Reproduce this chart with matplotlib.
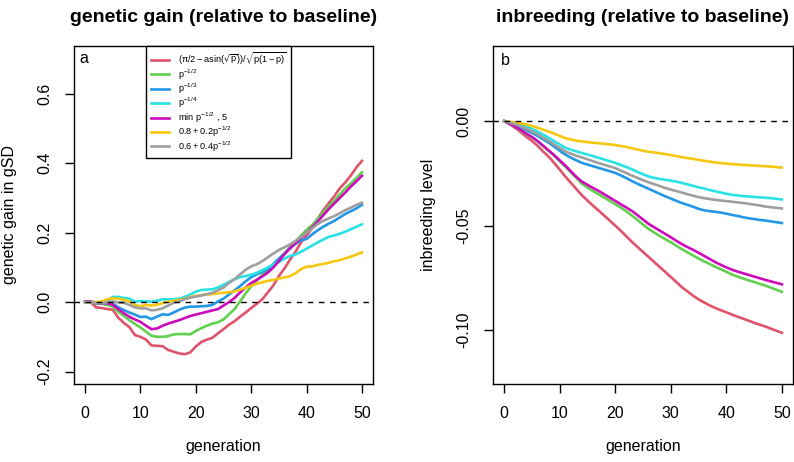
#!/usr/bin/env python3
"""
Genetic gain and inbreeding relative to baseline, two panels.
"""
import matplotlib
matplotlib.use("Agg")
import matplotlib.pyplot as plt

plt.rcParams["font.family"] = ["Liberation Sans", "DejaVu Sans"]
plt.rcParams["mathtext.default"] = "regular"
plt.rcParams["axes.unicode_minus"] = False

generation = list(range(51))

labels = [
    r"$(\pi/2 - asin(\sqrt{p}))/\sqrt{p(1-p)}$",
    r"$p^{-1/2}$",
    r"$p^{-1/3}$",
    r"$p^{-1/4}$",
    r"$min\ p^{-1/2}$ , 5",
    r"$0.8 + 0.2p^{-1/2}$",
    r"$0.6 + 0.4p^{-1/2}$",
]
colors = ["#DF536B", "#61D04F", "#2297E6", "#28E2E5", "#CD0BBC", "#F5C710", "#9E9E9E"]

# panel a: genetic gain in gSD
gain_red = [0.0, 0.0, -0.015, -0.017, -0.020, -0.022, -0.045, -0.060, -0.072, -0.095,
            -0.100, -0.108, -0.125, -0.126, -0.127, -0.138, -0.143, -0.148, -0.150, -0.145,
            -0.128, -0.115, -0.108, -0.103, -0.090, -0.078, -0.065, -0.055, -0.042, -0.030,
            -0.017, -0.005, 0.008, 0.028, 0.048, 0.075, 0.097, 0.122, 0.145, 0.172,
            0.192, 0.213, 0.240, 0.264, 0.285, 0.305, 0.328, 0.345, 0.365, 0.388, 0.407]
gain_green = [0.0, 0.0, -0.005, -0.005, -0.008, -0.013, -0.028, -0.040, -0.052, -0.063,
              -0.073, -0.085, -0.097, -0.100, -0.100, -0.098, -0.093, -0.092, -0.092, -0.093,
              -0.083, -0.075, -0.068, -0.062, -0.058, -0.050, -0.035, -0.020, 0.002, 0.025,
              0.045, 0.062, 0.078, 0.092, 0.108, 0.122, 0.140, 0.158, 0.175, 0.192,
              0.208, 0.222, 0.240, 0.258, 0.276, 0.292, 0.310, 0.328, 0.342, 0.358, 0.374]
gain_blue = [0.0, 0.0, -0.003, -0.003, -0.003, -0.004, -0.015, -0.023, -0.030, -0.036,
             -0.043, -0.042, -0.049, -0.042, -0.035, -0.037, -0.030, -0.022, -0.016, -0.013,
             -0.013, -0.012, -0.011, -0.008, 0.002, 0.010, 0.022, 0.034, 0.046, 0.060,
             0.072, 0.080, 0.087, 0.095, 0.110, 0.125, 0.140, 0.155, 0.168, 0.178,
             0.182, 0.195, 0.207, 0.217, 0.226, 0.234, 0.244, 0.254, 0.262, 0.270, 0.280]
gain_cyan = [0.0, 0.0, 0.0, 0.0, 0.004, 0.015, 0.015, 0.012, 0.010, 0.001,
             0.003, 0.002, 0.001, 0.004, 0.008, 0.008, 0.008, 0.010, 0.015, 0.022,
             0.030, 0.035, 0.036, 0.037, 0.042, 0.050, 0.058, 0.066, 0.072, 0.075,
             0.079, 0.084, 0.092, 0.100, 0.108, 0.116, 0.125, 0.133, 0.137, 0.145,
             0.154, 0.163, 0.172, 0.180, 0.188, 0.192, 0.197, 0.203, 0.210, 0.217, 0.224]
gain_magenta = [0.002, 0.002, -0.003, -0.003, -0.003, -0.008, -0.020, -0.032, -0.042, -0.050,
                -0.057, -0.068, -0.078, -0.076, -0.068, -0.062, -0.057, -0.052, -0.046, -0.040,
                -0.036, -0.032, -0.028, -0.024, -0.020, -0.010, 0.000, 0.012, 0.028, 0.042,
                0.055, 0.064, 0.074, 0.085, 0.100, 0.118, 0.138, 0.155, 0.170, 0.186,
                0.200, 0.215, 0.232, 0.250, 0.268, 0.284, 0.300, 0.316, 0.333, 0.348, 0.364]
gain_yellow = [0.0, 0.0, 0.0, 0.002, 0.008, 0.011, 0.010, 0.007, 0.002, -0.008,
               -0.012, -0.008, -0.010, -0.008, -0.003, 0.001, 0.004, 0.006, 0.010, 0.015,
               0.018, 0.020, 0.022, 0.023, 0.025, 0.027, 0.028, 0.031, 0.036, 0.041,
               0.047, 0.053, 0.057, 0.061, 0.064, 0.068, 0.071, 0.075, 0.083, 0.095,
               0.102, 0.103, 0.107, 0.110, 0.113, 0.118, 0.121, 0.126, 0.131, 0.137, 0.143]
gain_gray = [0.0, 0.0, -0.003, -0.003, 0.000, 0.002, -0.001, -0.002, -0.008, -0.015,
             -0.018, -0.018, -0.024, -0.022, -0.018, -0.010, -0.002, 0.002, 0.009, 0.013,
             0.016, 0.019, 0.023, 0.027, 0.034, 0.042, 0.055, 0.066, 0.080, 0.093,
             0.103, 0.109, 0.118, 0.129, 0.140, 0.150, 0.158, 0.166, 0.176, 0.188,
             0.200, 0.212, 0.225, 0.234, 0.241, 0.248, 0.256, 0.265, 0.272, 0.280, 0.286]

# panel b: inbreeding level
inb_red = [0.0, -0.0015, -0.0033, -0.0053, -0.0075, -0.0095, -0.0118, -0.0145, -0.0170, -0.0200,
           -0.0232, -0.0265, -0.0295, -0.0325, -0.0355, -0.0380, -0.0405, -0.0428, -0.0452, -0.0476,
           -0.0500, -0.0525, -0.0551, -0.0578, -0.0602, -0.0626, -0.0650, -0.0674, -0.0698, -0.0722,
           -0.0746, -0.0770, -0.0795, -0.0815, -0.0835, -0.0853, -0.0868, -0.0882, -0.0894, -0.0905,
           -0.0915, -0.0926, -0.0936, -0.0945, -0.0955, -0.0965, -0.0974, -0.0983, -0.0993, -0.1003, -0.1013]
inb_green = [0.0, -0.0012, -0.0028, -0.0045, -0.0062, -0.0078, -0.0097, -0.0120, -0.0142, -0.0165,
             -0.0192, -0.0218, -0.0245, -0.0272, -0.0300, -0.0318, -0.0335, -0.0350, -0.0366, -0.0382,
             -0.0398, -0.0414, -0.0432, -0.0452, -0.0473, -0.0495, -0.0516, -0.0533, -0.0550, -0.0565,
             -0.0580, -0.0597, -0.0613, -0.0628, -0.0643, -0.0658, -0.0671, -0.0684, -0.0697, -0.0709,
             -0.0721, -0.0734, -0.0744, -0.0753, -0.0762, -0.0770, -0.0779, -0.0787, -0.0797, -0.0807, -0.0817]
inb_blue = [0.0, -0.0009, -0.0020, -0.0031, -0.0044, -0.0056, -0.0071, -0.0087, -0.0103, -0.0122,
            -0.0142, -0.0160, -0.0175, -0.0188, -0.0200, -0.0208, -0.0216, -0.0224, -0.0232, -0.0240,
            -0.0248, -0.0260, -0.0273, -0.0287, -0.0300, -0.0312, -0.0324, -0.0336, -0.0348, -0.0360,
            -0.0371, -0.0382, -0.0392, -0.0401, -0.0410, -0.0420, -0.0427, -0.0431, -0.0434, -0.0438,
            -0.0443, -0.0449, -0.0454, -0.0460, -0.0465, -0.0469, -0.0473, -0.0476, -0.0480, -0.0484, -0.0488]
inb_cyan = [0.0, -0.0005, -0.0010, -0.0016, -0.0026, -0.0037, -0.0050, -0.0065, -0.0080, -0.0096,
            -0.0112, -0.0128, -0.0137, -0.0145, -0.0153, -0.0160, -0.0168, -0.0176, -0.0184, -0.0192,
            -0.0200, -0.0210, -0.0220, -0.0231, -0.0243, -0.0255, -0.0265, -0.0272, -0.0277, -0.0281,
            -0.0285, -0.0290, -0.0296, -0.0303, -0.0310, -0.0317, -0.0323, -0.0330, -0.0336, -0.0342,
            -0.0348, -0.0353, -0.0356, -0.0359, -0.0361, -0.0363, -0.0365, -0.0367, -0.0369, -0.0372, -0.0375]
inb_magenta = [0.0, -0.0012, -0.0027, -0.0043, -0.0060, -0.0076, -0.0095, -0.0117, -0.0140, -0.0163,
               -0.0188, -0.0212, -0.0240, -0.0267, -0.0290, -0.0305, -0.0320, -0.0334, -0.0350, -0.0366,
               -0.0382, -0.0398, -0.0414, -0.0430, -0.0450, -0.0471, -0.0492, -0.0508, -0.0524, -0.0540,
               -0.0556, -0.0573, -0.0589, -0.0603, -0.0616, -0.0630, -0.0645, -0.0660, -0.0675, -0.0688,
               -0.0700, -0.0711, -0.0720, -0.0728, -0.0736, -0.0744, -0.0752, -0.0760, -0.0767, -0.0774, -0.0781]
inb_yellow = [0.0, -0.0003, -0.0007, -0.0011, -0.0016, -0.0023, -0.0032, -0.0041, -0.0050, -0.0060,
              -0.0071, -0.0081, -0.0088, -0.0094, -0.0098, -0.0101, -0.0104, -0.0106, -0.0109, -0.0112,
              -0.0115, -0.0119, -0.0124, -0.0130, -0.0136, -0.0142, -0.0147, -0.0150, -0.0154, -0.0158,
              -0.0163, -0.0168, -0.0173, -0.0177, -0.0181, -0.0186, -0.0190, -0.0194, -0.0198, -0.0201,
              -0.0204, -0.0206, -0.0208, -0.0210, -0.0211, -0.0213, -0.0215, -0.0216, -0.0218, -0.0220, -0.0223]
inb_gray = [0.0, -0.0007, -0.0016, -0.0025, -0.0037, -0.0049, -0.0063, -0.0079, -0.0095, -0.0112,
            -0.0129, -0.0145, -0.0156, -0.0166, -0.0174, -0.0183, -0.0192, -0.0201, -0.0209, -0.0217,
            -0.0225, -0.0237, -0.0249, -0.0261, -0.0272, -0.0283, -0.0293, -0.0302, -0.0311, -0.0320,
            -0.0328, -0.0335, -0.0342, -0.0350, -0.0357, -0.0364, -0.0369, -0.0373, -0.0377, -0.0380,
            -0.0383, -0.0386, -0.0389, -0.0392, -0.0396, -0.0400, -0.0404, -0.0409, -0.0412, -0.0415, -0.0418]

gain = [gain_red, gain_green, gain_blue, gain_cyan, gain_magenta, gain_yellow, gain_gray]
inbreeding = [inb_red, inb_green, inb_blue, inb_cyan, inb_magenta, inb_yellow, inb_gray]

x_ticks = [0, 10, 20, 30, 40, 50]
gain_ticks = [-0.2, 0.0, 0.2, 0.4, 0.6]
gain_ticklabels = ["-0.2", "0.0", "0.2", "0.4", "0.6"]
inb_ticks = [0.0, -0.05, -0.10]
inb_ticklabels = ["0.00", "-0.05", "-0.10"]


def style_axes(ax):
    for s in ax.spines.values():
        s.set_linewidth(1.0)
        s.set_color("black")
    ax.tick_params(direction="out", length=6.5, width=1.0, labelsize=11.5, pad=9)
    ax.set_xlim(-2, 52)
    ax.set_xticks(x_ticks)
    ax.set_xticklabels([str(t) for t in x_ticks])
    for lab in ax.get_yticklabels():
        lab.set_rotation(90)
        lab.set_va("center")
    ax.axhline(0, color="black", lw=1.0, linestyle=(0, (4, 4)), zorder=3)
    ax.set_xlabel("generation", fontsize=11.5, va="center")
    ax.xaxis.set_label_coords(0.5, (384 - 447) / 338)


fig = plt.figure(figsize=(7.94, 4.62), dpi=100)

ax1 = fig.add_axes([74 / 794, 1 - 384 / 462, 299 / 794, 338 / 462])
for series, c, lab in zip(gain, colors, labels):
    ax1.plot(generation, series, color=c, lw=1.9, label=lab)
ax1.set_ylim(-0.236, 0.738)
ax1.set_yticks(gain_ticks)
ax1.set_yticklabels(gain_ticklabels)
style_axes(ax1)
ax1.set_ylabel("genetic gain in gSD", fontsize=11.5, va="center")
ax1.yaxis.set_label_coords((10 - 74) / 299, 0.5)
ax1.text(0.5, (384 - 17) / 338, "genetic gain (relative to baseline)", transform=ax1.transAxes,
         ha="center", va="center", fontsize=14, fontweight="bold")
ax1.text((79 - 74) / 299, 0.962, "a", transform=ax1.transAxes, ha="left", va="center", fontsize=11.5)
leg = ax1.legend(loc="upper left", bbox_to_anchor=((146 - 74) / 299, 1.0), fontsize=6.6,
                 frameon=True, fancybox=False, edgecolor="black", framealpha=1,
                 handlelength=2.0, handletextpad=0.95, labelspacing=0.0, borderpad=0.5,
                 borderaxespad=0)
leg.get_frame().set_linewidth(1.0)

ax2 = fig.add_axes([493 / 794, 1 - 384 / 462, 300 / 794, 338 / 462])
for series, c in zip(inbreeding, colors):
    ax2.plot(generation, series, color=c, lw=1.9)
ax2.set_ylim(-0.1258, 0.0359)
ax2.set_yticks(inb_ticks)
ax2.set_yticklabels(inb_ticklabels)
style_axes(ax2)
ax2.set_ylabel("inbreeding level", fontsize=11.5, va="center")
ax2.yaxis.set_label_coords((429 - 493) / 300, 0.5)
ax2.text(0.5, (384 - 17) / 338, "inbreeding (relative to baseline)", transform=ax2.transAxes,
         ha="center", va="center", fontsize=14, fontweight="bold")
ax2.text((501 - 493) / 300, 0.957, "b", transform=ax2.transAxes, ha="left", va="center", fontsize=11.5)

fig.savefig("out.png", dpi=100)
